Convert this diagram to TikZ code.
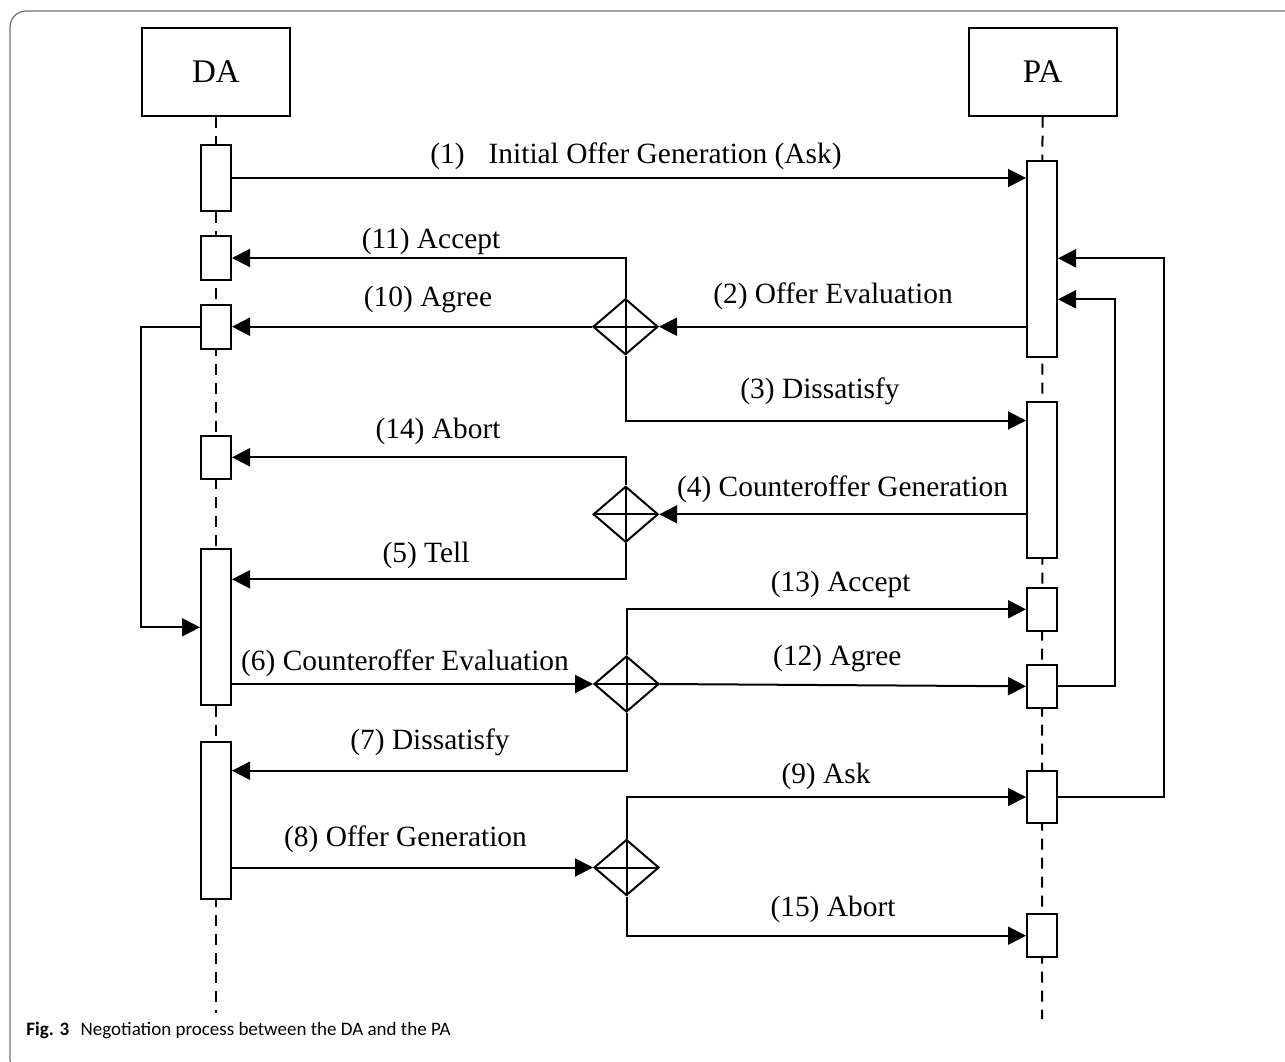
\documentclass[tikz,border=0pt]{standalone}
\usepackage{fontspec}
\setmainfont{Liberation Serif}
\newfontfamily\capfont{Carlito}
\usepackage{tikz}
\usetikzlibrary{shapes.geometric, arrows.meta, positioning, calc}
\definecolor{framegray}{RGB}{110,110,110}
\newcommand{\msgfont}{\fontsize{14.7}{17}\selectfont}
\tikzstyle{agent} = [rectangle, draw=black, line width=1pt, minimum width=74pt, minimum height=44pt, inner sep=0pt, font=\fontsize{16.5}{19}\selectfont]
\tikzstyle{actbar} = [rectangle, draw=black, fill=white, line width=1pt, minimum width=15pt, inner sep=0pt]
\tikzstyle{gateway} = [diamond, draw=black, fill=white, line width=1pt, minimum width=32.5pt, minimum height=28pt, inner sep=0pt,
  path picture={\draw[line width=1pt] (path picture bounding box.north) -- (path picture bounding box.south)
    (path picture bounding box.west) -- (path picture bounding box.east);}]
\tikzstyle{lifeline} = [line width=1pt, dash pattern=on 5.5pt off 4pt]
\tikzstyle{arrow} = [line width=1pt, -{Triangle[length=9pt,width=9pt]}]
\tikzstyle{msg} = [anchor=base, inner sep=0pt, font=\msgfont]

\begin{document}
\begin{tikzpicture}[x=0.5pt, y=-0.5pt]

\useasboundingbox (0,0) rectangle (1285,1061);

% Frame
\draw[framegray, line width=0.6pt, rounded corners=8pt] (10,11) rectangle (1300,1075);

% Agents
\node[agent] (da) at (216,72) {DA};
\node[agent] (pa) at (1042.5,71.5) {PA};

% Lifelines
\coordinate (da end) at (216,1013);
\coordinate (pa end) at (1042,1019);
\draw[lifeline] (da.south) -- (da end);
\draw[lifeline] (pa.south) -- (pa end);

% Activation bars (DA side)
\node[actbar, minimum height=33pt] (da1) at (216,178) {};
\node[actbar, minimum height=22pt] (da2) at (216,258) {};
\node[actbar, minimum height=22pt] (da3) at (216,326.5) {};
\node[actbar, minimum height=21.3pt] (da4) at (216,457.3) {};
\node[actbar, minimum height=78pt] (da5) at (216,627) {};
\node[actbar, minimum height=78.3pt] (da6) at (216,820.7) {};

% Activation bars (PA side)
\node[actbar, minimum height=98pt] (pa1) at (1042,259) {};
\node[actbar, minimum height=78pt] (pa2) at (1042,480) {};
\node[actbar, minimum height=21.3pt] (pa3) at (1042,609.3) {};
\node[actbar, minimum height=21.3pt] (pa4) at (1042,686.3) {};
\node[actbar, minimum height=26.3pt] (pa5) at (1042,797) {};
\node[actbar, minimum height=21.7pt] (pa6) at (1042,935.7) {};

% Decision gateways
\node[gateway] (gw1) at (625.5,326.7) {};
\node[gateway] (gw2) at (625.7,514.3) {};
\node[gateway] (gw3) at (626.5,684) {};
\node[gateway] (gw4) at (626.5,867.5) {};

% Messages
\draw[arrow] (da1.east) -- (da1.east -| pa1.west);
\draw[arrow] (gw1 -| pa1.west) -- (gw1.east);
\draw[arrow] (gw1.north) |- (da2.east);
\draw[arrow] (gw1.west) -- (da3.east |- gw1);
\draw[arrow] (gw1.south) |- (pa2.west |- 0,420.5);
\draw[arrow] (gw2 -| pa2.west) -- (gw2.east);
\draw[arrow] (gw2.north) |- (da4.east);
\draw[arrow] (gw2.south) |- (da5.east |- 0,579.3);
\draw[arrow] (da3.west) -- ++(-59,0) |- (da5.west |- 0,627.3);
\draw[arrow] (da5.east |- gw3) -- (gw3.west);
\draw[arrow] (gw3.north) |- (pa3.west);
\draw[arrow] (gw3.east) -- (pa4.west);
\draw[arrow] (gw3.south) |- (da6.east |- 0,770.7);
\draw[arrow] (da6.east |- gw4) -- (gw4.west);
\draw[arrow] (gw4.north) |- (pa5.west);
\draw[arrow] (gw4.south) |- (pa6.west);
\draw[arrow] (pa4.east) -- ++(57,0) |- (pa1.east |- 0,299.3);
\draw[arrow] (pa5.east) -- ++(106,0) |- (pa1.east |- 0,258.3);

% Message labels
\node[msg] (l1) at (636,163) {(1)\hspace{12pt}Initial Offer Generation (Ask)};
\node[msg] (l2) at (833,303) {(2) Offer Evaluation};
\node[msg] (l3) at (820,398) {(3) Dissatisfy};
\node[msg] (l4) at (842.5,496.7) {(4) Counteroffer Generation};
\node[msg] (l5) at (426,562.7) {(5) Tell};
\node[msg] (l6) at (405,670) {(6) Counteroffer Evaluation};
\node[msg] (l7) at (430,749.3) {(7) Dissatisfy};
\node[msg] (l8) at (405.5,846) {(8) Offer Generation};
\node[msg] (l9) at (826,783.3) {(9) Ask};
\node[msg] (l10) at (428,306.7) {(10) Agree};
\node[msg] (l11) at (431,248) {(11) Accept};
\node[msg] (l12) at (837.3,665) {(12) Agree};
\node[msg] (l13) at (840.7,591.7) {(13) Accept};
\node[msg] (l14) at (438,438.3) {(14) Abort};
\node[msg] (l15) at (833,916.7) {(15) Abort};

% Caption
\node[anchor=base west, inner sep=0pt, font=\capfont\fontsize{9.5}{11}\selectfont] (caption) at (26,1035) {\textbf{Fig. 3}\hspace{0.6em}Negotiation process between the DA and the PA};

\end{tikzpicture}
\end{document}
